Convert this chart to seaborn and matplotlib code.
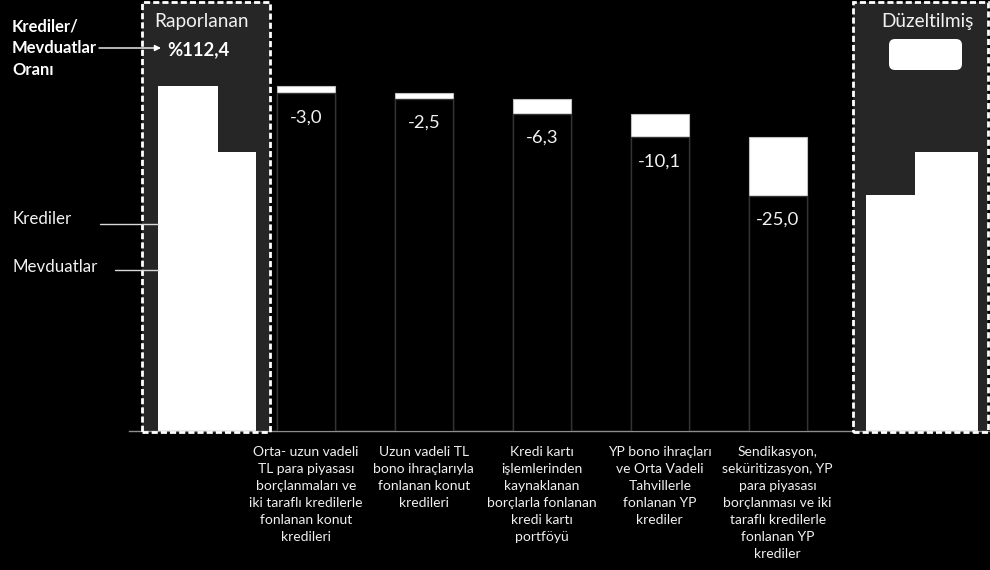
import numpy as np
import pandas as pd
import matplotlib
matplotlib.use("Agg")
import matplotlib.pyplot as plt
import seaborn as sns
from matplotlib.patches import Rectangle, FancyBboxPatch
from matplotlib.transforms import IdentityTransform

# ---------------- data ----------------
categories = [
    "Orta- uzun vadeli\nTL para piyasası\nborçlanmaları ve\niki taraflı kredilerle\nfonlanan konut\nkredileri",
    "Uzun vadeli TL\nbono ihraçlarıyla\nfonlanan konut\nkredileri",
    "Kredi kartı\nişlemlerinden\nkaynaklanan\nborçlarla fonlanan\nkredi kartı\nportföyü",
    "YP bono ihraçları\nve Orta Vadeli\nTahvillerle\nfonlanan YP\nkrediler",
    "Sendikasyon,\nseküritizasyon, YP\npara piyasası\nborçlanması ve iki\ntaraflı kredilerle\nfonlanan YP\nkrediler",
]
changes = [-3.0, -2.5, -6.3, -10.1, -25.0]
series_names = ["Krediler", "Mevduatlar"]
reported_values = [147.5, 119.5]   # schematic bar heights (Raporlanan)
adjusted_values = [100.9, 119.5]   # schematic bar heights (Düzeltilmiş)
ratio_title = ["Krediler/", "Mevduatlar", "Oranı"]
reported_ratio_label = "%112,4"
group_titles = ["Raporlanan", "Düzeltilmiş"]

# ---------------- derived waterfall levels ----------------
start = reported_values[0]
tops = start + np.concatenate([[0.0], np.cumsum(changes)[:-1]])
bottoms = tops + np.array(changes)
df = pd.DataFrame({"kategori": categories, "ust": tops, "alt": bottoms})

# ---------------- figure ----------------
sns.set_theme(style="white")
plt.rcParams["font.family"] = ["Lato", "DejaVu Sans"]

W, H = 990, 570
fig = plt.figure(figsize=(W / 100, H / 100), dpi=100, facecolor="black")
ax = fig.add_axes([129 / W, 139.5 / H, 861 / W, 430.5 / H])
ax.set_facecolor("black")

YMAX = 184.4
bar_w = 0.492

sns.barplot(data=df, x="kategori", y="ust", color="white", width=bar_w,
            errorbar=None, saturation=1, edgecolor="#bfbfbf", linewidth=0.8,
            zorder=2, ax=ax)
sns.barplot(data=df, x="kategori", y="alt", color="black", width=bar_w,
            errorbar=None, saturation=1, edgecolor="#333333", linewidth=1.0,
            zorder=3, ax=ax)

ax.set_xlim(-1.5, 5.8)
ax.set_ylim(0, YMAX)

# value labels
for i, (b, c) in enumerate(zip(bottoms, changes)):
    ax.annotate(f"{c:.1f}".replace(".", ","), xy=(i, b), xytext=(0, -24),
                textcoords="offset pixels", ha="center", va="center",
                color="#f2f2f2", fontsize=13.3, zorder=6)

# grouped boxes (Raporlanan / Düzeltilmiş)
rep_left = [-1.2553, -0.7464]
rep_width = [0.5089, 0.3266]
adj_left = [4.7498, 5.1654]
adj_width = [0.4156, 0.5344]
ax.bar(rep_left, reported_values, width=rep_width, align="edge",
       color="white", linewidth=0, zorder=2)
ax.bar(adj_left, adjusted_values, width=adj_width, align="edge",
       color="white", linewidth=0, zorder=2)

box_bottom, box_top = -0.65, 183.5
for x0, x1 in [(-1.390, -0.305), (4.638, 5.782)]:
    ax.add_patch(Rectangle((x0, box_bottom), x1 - x0, box_top - box_bottom,
                           facecolor="#262626", edgecolor="none", zorder=1,
                           clip_on=False))
    ax.add_patch(Rectangle((x0, box_bottom), x1 - x0, box_top - box_bottom,
                           fill=False, edgecolor="white", linewidth=2,
                           linestyle=(0, (2.2, 1.1)), zorder=5, clip_on=False))

# axis styling
for s in ["left", "top", "right"]:
    ax.spines[s].set_visible(False)
ax.spines["bottom"].set_color("#8c8c8c")
ax.spines["bottom"].set_linewidth(1)
ax.set_yticks([])
ax.set_xlabel("")
ax.set_ylabel("")
ax.set_xticks(np.arange(-1.5, 6.0, 1.0), minor=True)
ax.tick_params(axis="x", which="minor", length=3, width=1, color="#8c8c8c",
               direction="out")
ax.tick_params(axis="x", which="major", length=0, pad=11, labelsize=10.0,
               labelcolor="#f0f0f0")
for lbl in ax.get_xticklabels():
    lbl.set_linespacing(1.5)


def fp(px, py):
    return (px / W, 1 - py / H)


# left annotation texts
for txt, py in zip(ratio_title, [26, 48, 70]):
    fig.text(*fp(12, py), txt, color="white", fontsize=11.9, fontweight="bold",
             ha="left", va="center")
ax.annotate("", xy=fp(161, 48), xytext=fp(99, 48), xycoords="figure fraction",
            textcoords="figure fraction",
            arrowprops=dict(arrowstyle="-|>", color="white", lw=1.0,
                            mutation_scale=9, shrinkA=0, shrinkB=0),
            annotation_clip=False)
fig.text(*fp(198.5, 50), reported_ratio_label, color="white", fontsize=13.3,
         fontweight="bold", ha="center", va="center")
fig.text(*fp(201, 21), group_titles[0], color="#f2f2f2", fontsize=13.7,
         ha="center", va="center")
fig.text(*fp(927, 22), group_titles[1], color="#f2f2f2", fontsize=13.7,
         ha="center", va="center")

# series pointers
for name, py, px0 in zip(series_names, [219, 267], [100, 115]):
    fig.text(*fp(12, py), name, color="#f2f2f2", fontsize=12.2,
             ha="left", va="center")
    ly = py + 5 if name == "Krediler" else py + 3
    fig.add_artist(plt.Line2D([px0 / W, 158 / W], [1 - ly / H, 1 - ly / H],
                              transform=fig.transFigure, color="#d9d9d9",
                              lw=1))

# empty white rounded label in Düzeltilmiş
fig.add_artist(FancyBboxPatch((889, H - 70), 73, 31,
                              boxstyle="round,pad=0,rounding_size=6",
                              transform=IdentityTransform(),
                              facecolor="white", edgecolor="none"))

fig.savefig("out.png", dpi=100, facecolor="black")
